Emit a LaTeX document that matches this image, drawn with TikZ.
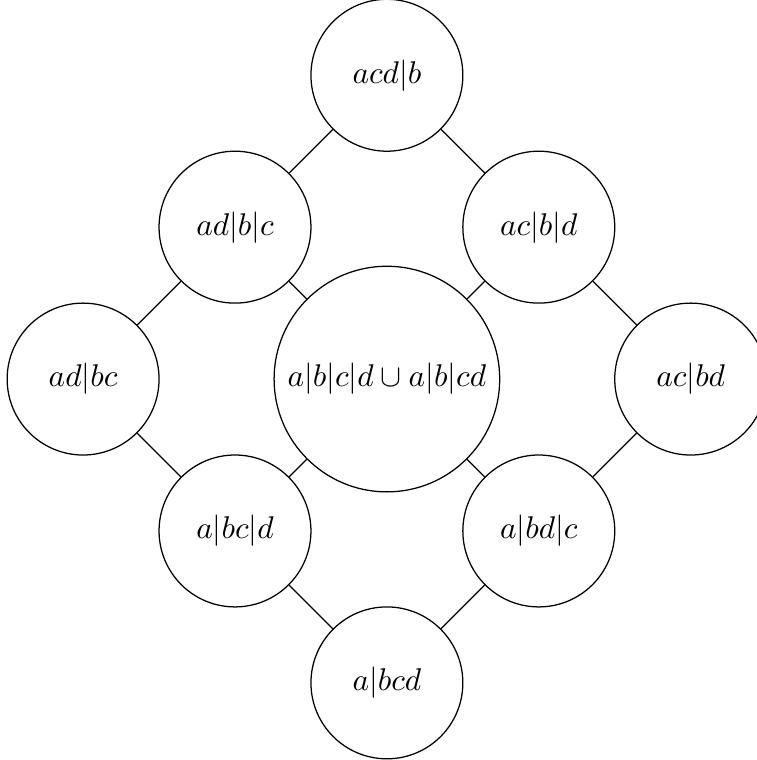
\documentclass[tikz,border=0pt]{standalone}
\begin{document}
\begin{tikzpicture}[x=1.7cm,y=1.7cm,
  part/.style={circle,draw,minimum size=1.7cm,inner sep=3.33pt}]
\useasboundingbox (-123.2pt,-121.3pt) rectangle (117.8pt,120.7pt);
\node[part] (top) at (0,2) {$acd|b$};
\node[part] (ul) at (-1,1) {$ad|b|c$};
\node[part] (ur) at (1,1) {$ac|b|d$};
\node[part] (l) at (-2,0) {$ad|bc$};
\node[part] (c) at (0,0) {$a|b|c|d \cup a|b|cd$};
\node[part] (r) at (2,0) {$ac|bd$};
\node[part] (ll) at (-1,-1) {$a|bc|d$};
\node[part] (lr) at (1,-1) {$a|bd|c$};
\node[part] (bot) at (0,-2) {$a|bcd$};
\draw (top) -- (ul);
\draw (top) -- (ur);
\draw (ul) -- (l);
\draw (ul) -- (c);
\draw (ur) -- (c);
\draw (ur) -- (r);
\draw (l) -- (ll);
\draw (r) -- (lr);
\draw (ll) -- (c);
\draw (lr) -- (c);
\draw (ll) -- (bot);
\draw (lr) -- (bot);
\end{tikzpicture}
\end{document}
